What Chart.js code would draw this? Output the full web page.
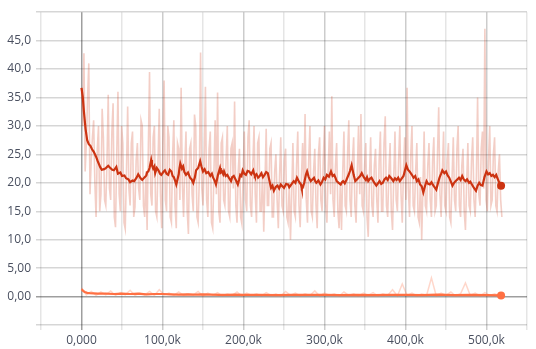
<!DOCTYPE html>
<html>
<head>
<meta charset="utf-8">
<script src="https://cdn.jsdelivr.net/npm/chart.js@4/dist/chart.umd.min.js"></script>
<style>
html,body{margin:0;padding:0;background:#fff;}
#wrap{position:relative;width:536px;height:349px;}
</style>
</head>
<body>
<div id="wrap"><canvas id="c" width="536" height="349"></canvas></div>
<script>
// x values in thousands of steps
const rawStepK = 1.5;      // spacing of raw samples (series A), k steps
const rawStepK2 = 6;       // spacing of raw samples (series B), k steps

const rawA = [
36.7,30,42.8,22,27,35,41,18,24,28,31,20,14,26,30,15,18,33,28,17,
16,24,35.5,19,17,29,34,14,12.2,25,36,18,15,30,27,13,11.9,22,33.4,19,
16,27,29,14,15.7,24,27,19,17,31,30,16,14,22,11.7,26,39.5,18,16,28,
30,15,14,24,33,18,12,27,38,17,15,30,28,14,13,25,31,16,12,27,
26,17,36.7,20,14,23,29,15,11,26,27,18,15,32,30,14,13,21,42.9,19,
16,24,36.9,17,14,26,29,13,12,22,31,18,35.9,15,13,27,28,17,16,24,
30,15,14,26,27,19,34.3,16,13,22,26,14,12.8,21,29,17,15,28,31,16,
14,23,30,18,13,27,28,15,15,22,11.4,20,29.5,16,16,26,27,14,14,22,
25,17,12,21,28,16,15,24,26,14,13,20,10.0,18,27,15,14,23,29,16,
12.2,21,27,19,32.1,17,13,24,30,15,14,22,26,16,12,25,28,17,15,24,
30,16,13,22,29,18,35.2,17,14,23,27,15,12,20,11.7,22,29,16,15,25,
31,17,14,24,28,16,13,22,30,18,32.1,16,15,23,27,14,10.5,21,28,16,
14,23,26,17,13,24,29,15,15,27,31.7,16,14,22,27,15,11.7,21,29,17,
15,24,30,18,13,22,28,17,36.7,19,14,25,30,16,15,22,27,14,13,21,
10.0,19,29,16,15,23,27,17,14,24,28,15,16,25,33.3,18,14,22,29,16,
15,24,27,14,13,21,28,17,15,26,30,16,14,23,26,15,11.7,20,27,16,
15,24,28,17,14,21,35.0,18,16,26,29,19,47.1,17,15,24,30,16,17,25,
28,16,15,22,25,17,14
];

const smoothAX = [
0,1.5,3,5,7,9,11,13,15,18,20,23,25,28,30,33,35,38,40,43,45,48,50,53,55,58,60,63,65,68,70,73,75,78,
80,81.2,82.5,84,86,87,88.5,90,91,93,95,97,98.5,101,103,105,107,109,111,112.5,114,115.5,117,118.5,120,121,122,124,125.5,127,129,131.5,134,136,138,140,141.5,144,146.5,148,150,152,154,156.5,159,161,162.5,164,166,168.5,171,172,173.5,175,176,178,
180,182.3,184.6,186,188,190.5,193,194.5,196,197.5,199,201,203,205,207,209.5,212,213,214,216,218,220,222,224,226,228,230,232,234,235.8,237.5,240,242,244,246,248,250,252.5,255,256.5,258,260,262,264,266,268.5,271,272,273,275,277,278.5,280.5,283,285,287,288.5,290,292.5,295,297,299,
301,303,305.5,308,310,312,313.5,315,317.5,320,321.5,323,325,327,330,331.5,333.5,336,338,340,342,344,346,348.5,351,352.5,354,356,358,361,364,366,368,370,372,374,376,378,380,382.5,385,387,389,391,393,395,397.5,399,
401,403,405,407.5,410,412,414,416,418,420,422,424,426,428,430,432,434.5,436,438,440,442,444,445.5,448,450,452,454,456,458,460,462,464,466,468,470,472,474,476,478.5,480,482,484.5,487,489,491,493,495,497.5,500,502,504,506,508,510,512,513.5,515,516.5,518
];
const smoothAY = [
36.7,35.2,32.5,29.5,27.5,26.8,26.5,25.9,25.5,24.6,23.8,22.8,22.3,22.4,22.6,23.0,22.7,22.3,22.2,22.8,21.6,21.8,21.2,21.3,20.8,20.6,20.1,20.4,20.3,20.9,21.5,20.8,20.5,21.0,
21.3,21.9,22.0,22.6,24.0,23.1,22.5,22.9,21.7,22.6,22.2,21.6,21.4,21.9,22.2,21.6,21.4,22.3,22.0,21.2,21.0,20.4,19.7,20.6,21.5,22.6,23.4,22.5,22.9,21.9,21.4,21.8,20.9,20.6,20.0,21.0,22.2,22.6,23.8,22.9,22.0,22.4,21.7,21.9,21.2,21.6,20.9,20.5,19.7,21.4,22.6,21.8,22.0,21.5,22.0,21.2,
21.4,20.8,20.3,21.0,21.2,20.5,19.7,20.5,21.4,21.2,22.2,21.6,21.4,22.1,22.0,21.5,22.2,21.6,21.2,21.5,20.9,21.2,21.7,21.0,21.4,21.9,21.7,20.4,19.1,19.5,18.6,19.3,19.5,19.0,19.7,19.4,19.1,19.8,19.7,19.2,19.5,19.9,20.3,20.0,20.9,20.2,19.7,19.0,19.1,20.0,21.4,22.0,21.0,20.3,20.6,20.9,20.3,20.0,20.4,19.7,20.2,20.9,
20.6,21.4,21.1,22.0,21.2,21.4,20.9,20.3,20.0,19.7,20.1,20.3,19.9,20.5,21.5,22.1,23.1,21.4,20.3,20.6,20.9,21.2,21.7,21.0,20.5,21.0,20.3,20.7,20.9,20.1,19.5,19.9,20.3,19.8,20.0,20.6,20.9,20.5,21.2,20.8,20.3,20.8,20.5,20.9,20.3,20.7,21.2,22.0,
23.1,22.3,22.0,21.5,20.9,21.2,20.3,20.6,19.7,19.4,18.3,19.4,20.3,19.8,19.7,20.1,19.5,19.2,18.8,19.9,20.9,21.6,22.2,21.7,22.0,21.3,20.9,20.2,19.5,20.0,20.3,20.6,20.9,20.5,21.2,20.6,20.3,20.6,20.0,20.2,19.7,19.1,18.6,19.5,20.0,19.6,19.5,21.0,22.0,21.5,21.7,21.2,21.4,21.0,21.4,20.8,20.3,19.8,19.5
];

const rawB = [
1.5,0.3,0.9,0.2,0.8,0.3,1.0,0.2,0.7,0.3,
1.1,0.2,0.6,0.3,0.9,0.2,1.2,0.3,0.6,0.2,
0.8,0.2,0.5,0.3,0.9,0.1,0.6,0.2,0.7,0.1,
0.5,0.2,0.8,0.1,0.6,0.2,0.5,0.1,0.7,0.2,
0.5,0.1,0.9,0.2,0.6,0.1,0.5,0.2,1.0,0.1,
0.6,0.2,0.5,0.1,0.8,0.2,0.5,0.1,0.6,0.2,
0.7,0.1,0.5,0.2,1.2,0.1,2.2,0.2,0.6,0.1,
0.5,0.2,3.3,0.1,0.6,0.2,0.8,0.1,0.5,2.4,
0.2,0.6,0.1,0.7,0.2,0.5,0.2
];

const smoothBX = [0,2,4,7,10,15,20,30,40,50,60,70,80,90,100,110,120,130,140,150,160,170,180,190,200,220,240,260,280,300,320,340,360,380,400,420,440,460,480,500,518];
const smoothBY = [1.3,1.0,0.8,0.65,0.6,0.55,0.5,0.5,0.45,0.5,0.45,0.5,0.4,0.45,0.45,0.4,0.35,0.4,0.35,0.4,0.35,0.3,0.3,0.35,0.3,0.3,0.25,0.3,0.3,0.3,0.25,0.3,0.25,0.3,0.3,0.25,0.35,0.25,0.3,0.25,0.2];

const xTickLabels = {0:'0,000',100:'100,0k',200:'200,0k',300:'300,0k',400:'400,0k',500:'500,0k'};
const yTickLabels = {0:'0,00',5:'5,00',10:'10,0',15:'15,0',20:'20,0',25:'25,0',30:'30,0',35:'35,0',40:'40,0',45:'45,0'};

const colA = '#cc3311';
const colB = '#ff7043';

const pts = (xs, ys) => ys.map((y, i) => ({x: xs[i], y}));
const rawPts = (vals, step) => vals.map((y, i) => ({x: i * step, y}));
const lastOnly = (r) => (ctx) => ctx.dataIndex === ctx.dataset.data.length - 1 ? r : 0;

new Chart(document.getElementById('c'), {
  type: 'line',
  data: {
    datasets: [
      {data: pts(smoothAX, smoothAY), borderColor: colA, backgroundColor: colA, borderWidth: 2.2, pointRadius: lastOnly(4), pointBorderWidth: 0, order: 0},
      {data: pts(smoothBX, smoothBY), borderColor: colB, backgroundColor: colB, borderWidth: 2.2, pointRadius: lastOnly(4), pointBorderWidth: 0, order: 0},
      {data: rawPts(rawA, rawStepK), borderColor: 'rgba(204,51,17,0.24)', borderWidth: 1.6, pointRadius: 0, order: 1},
      {data: rawPts(rawB, rawStepK2), borderColor: 'rgba(255,112,67,0.28)', borderWidth: 1.5, pointRadius: 0, order: 1}
    ]
  },
  options: {
    responsive: false,
    animation: false,
    events: [],
    layout: {padding: {left: 0, right: 9, top: 6, bottom: 0}},
    plugins: {legend: {display: false}, tooltip: {enabled: false}},
    elements: {line: {tension: 0}},
    scales: {
      x: {
        type: 'linear', min: -50, max: 550,
        afterFit: (s) => { s.height = 24; },
        border: {display: false},
        grid: {
          color: (c) => c.tick.value === 0 ? 'rgba(0,0,0,0.38)' : (c.tick.value % 100 === 0 ? 'rgba(0,0,0,0.2)' : 'rgba(0,0,0,0.1)'),
          tickLength: 5, lineWidth: 1.5
        },
        ticks: {
          stepSize: 50, autoSkip: false, maxRotation: 0, padding: 3,
          color: '#4a5060', font: {family: 'Open Sans', size: 12},
          callback: (v) => xTickLabels[v] !== undefined ? xTickLabels[v] : ''
        }
      },
      y: {
        min: -5, max: 50,
        afterFit: (s) => { s.width = 41; },
        border: {display: false},
        grid: {
          color: (c) => c.tick.value === 0 ? 'rgba(0,0,0,0.38)' : 'rgba(0,0,0,0.16)',
          tickLength: 5, lineWidth: 1.5
        },
        ticks: {
          stepSize: 5, autoSkip: false, padding: 5,
          color: '#4a5060', font: {family: 'Open Sans', size: 12},
          callback: (v) => yTickLabels[v] !== undefined ? yTickLabels[v] : ''
        }
      }
    }
  }
});
</script>
</body>
</html>
